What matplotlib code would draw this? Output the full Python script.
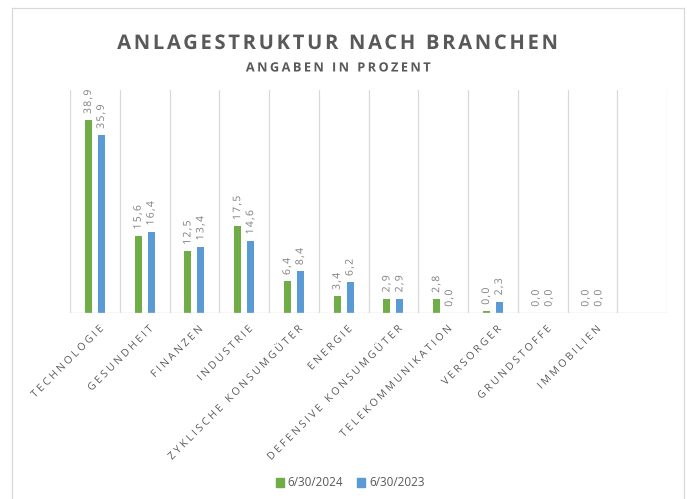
import matplotlib
matplotlib.use("Agg")
import matplotlib.pyplot as plt
from matplotlib.patches import Patch
from matplotlib.lines import Line2D
from matplotlib.patheffects import AbstractPathEffect
from matplotlib.path import Path
from matplotlib.textpath import TextToPath
from matplotlib.font_manager import FontProperties
import numpy as np

categories = ["TECHNOLOGIE", "GESUNDHEIT", "FINANZEN", "INDUSTRIE",
              "ZYKLISCHE KONSUMGÜTER", "ENERGIE", "DEFENSIVE KONSUMGÜTER",
              "TELEKOMMUNIKATION", "VERSORGER", "GRUNDSTOFFE", "IMMOBILIEN"]
values_2024 = [38.9, 15.6, 12.5, 17.5, 6.4, 3.4, 2.9, 2.8, 0.0, 0.0, 0.0]
values_2023 = [35.9, 16.4, 13.4, 14.6, 8.4, 6.2, 2.9, 0.0, 2.3, 0.0, 0.0]
bar_values_2024 = [38.9, 15.6, 12.5, 17.5, 6.4, 3.4, 2.9, 2.8, 0.4, 0.0, 0.0]
series_names = ["6/30/2024", "6/30/2023"]
title = "ANLAGESTRUKTUR NACH BRANCHEN"
subtitle = "ANGABEN IN PROZENT"

GREEN = "#70AD47"
BLUE = "#5B9BD5"
TXT = "#595959"
LBL = "#7F7F7F"
GRID = "#D9D9D9"

plt.rcParams['font.family'] = ['Open Sans', 'DejaVu Sans']

_t2p = TextToPath()


class LetterSpacing(AbstractPathEffect):
    """Draws the text path with extra space between glyphs (spacing in em)."""

    def __init__(self, s, prop, spacing_em, align=0.5):
        super().__init__()
        self.s = s
        self.spacing = spacing_em * _t2p.FONT_SCALE
        self.align = align
        scale = prop.get_size_in_points() / _t2p.FONT_SCALE
        self.bounds = [0.0]
        for i in range(1, len(s) + 1):
            w = _t2p.get_text_width_height_descent(s[:i], prop, ismath=False)[0]
            self.bounds.append(w / scale)

    def draw_path(self, renderer, gc, tpath, affine, rgbFace=None):
        verts = np.array(tpath.vertices, dtype=float).copy()
        codes = tpath.codes
        n = len(self.s)
        if codes is not None and len(verts):
            starts = list(np.nonzero(codes == Path.MOVETO)[0]) + [len(verts)]
            for a, b in zip(starts[:-1], starts[1:]):
                cx = verts[a:b, 0].mean()
                idx = 0
                for i in range(n):
                    if self.bounds[i] < cx <= self.bounds[i + 1] + 1e-9:
                        idx = i
                        break
                    if cx > self.bounds[i + 1]:
                        idx = i
                verts[a:b, 0] += idx * self.spacing
            verts[:, 0] -= (n - 1) * self.spacing * self.align
        renderer.draw_path(gc, Path(verts, codes), affine, rgbFace)


def spaced(textobj, spacing_em, align):
    prop = textobj.get_fontproperties()
    textobj.set_path_effects([LetterSpacing(textobj.get_text(), prop, spacing_em, align)])
    return textobj


fig = plt.figure(figsize=(6.87, 4.99), dpi=100)
W, H = 687, 499
ax = fig.add_axes([70 / W, 1 - 313 / H, (667 - 70) / W, (313 - 90) / H])

n_slots = len(categories) + 1
x = np.arange(len(categories))
off = 0.13
bw = 0.14
ax.bar(x - off, bar_values_2024, width=bw, color=GREEN, zorder=3)
ax.bar(x + off, values_2023, width=bw, color=BLUE, zorder=3)

ax.set_xlim(-0.5, n_slots - 0.5)
ax.set_ylim(0, 45)

for b in np.arange(-0.5, n_slots, 1.0):
    ax.axvline(b, color=GRID, lw=0.9, zorder=1)
for s in ax.spines.values():
    s.set_visible(False)
ax.axhline(0, color=GRID, lw=1.0, zorder=4)
ax.set_yticks([])
ax.set_xticks(x)
ax.set_xticklabels([])
ax.tick_params(axis='x', length=0)


def fmt(v):
    return f"{v:.1f}".replace(".", ",")


for xi, v, bv in zip(x, values_2024, bar_values_2024):
    t = ax.annotate(fmt(v), (xi - off, bv), xytext=(0, 4.5), textcoords='offset points',
                    rotation=90, ha='center', va='bottom', fontsize=7.5, color=LBL)
    spaced(t, 0.12, 0.0)
for xi, v in zip(x, values_2023):
    t = ax.annotate(fmt(v), (xi + off, v), xytext=(0, 4.5), textcoords='offset points',
                    rotation=90, ha='center', va='bottom', fontsize=7.5, color=LBL)
    spaced(t, 0.12, 0.0)

for xi, c in zip(x, categories):
    t = ax.annotate(c, (xi, 0), xytext=(2, -8), textcoords='offset points',
                    rotation=45, rotation_mode='anchor', ha='right', va='top',
                    fontsize=7.5, color=TXT)
    spaced(t, 0.25, 1.0)

t = fig.text(337 / W, 1 - 44 / H, title, ha='center', va='center',
             fontsize=14.5, fontweight='bold', color=TXT)
spaced(t, 0.135, 0.5)
t = fig.text(338 / W, 1 - 68 / H, subtitle, ha='center', va='center',
             fontsize=9.2, fontweight='bold', color=TXT)
spaced(t, 0.19, 0.5)

# chart frame
frame_col = "#D9D9D9"
fig.add_artist(Line2D([11.5 / W, 11.5 / W], [0, 1 - 8 / H], transform=fig.transFigure, color=frame_col, lw=0.9))
fig.add_artist(Line2D([11.5 / W, 684 / W], [1 - 8 / H, 1 - 8 / H], transform=fig.transFigure, color=frame_col, lw=0.9))
fig.add_artist(Line2D([684 / W, 684 / W], [0, 1 - 8 / H], transform=fig.transFigure, color=frame_col, lw=0.9))

handles = [Patch(color=GREEN, label=series_names[0]), Patch(color=BLUE, label=series_names[1])]
fig.legend(handles=handles, loc='center', bbox_to_anchor=(350 / W, 1 - 483 / H), ncol=2,
           frameon=False, fontsize=8.5, handlelength=0.7, handleheight=0.7,
           handletextpad=0.3, columnspacing=1.2, labelcolor=TXT)

fig.savefig("out.png", dpi=100)
